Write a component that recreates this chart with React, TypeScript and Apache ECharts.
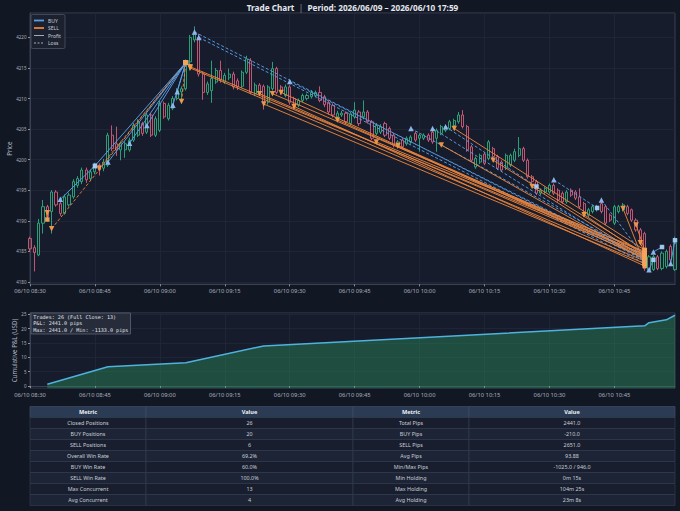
import React, { useEffect, useRef } from "react";
import * as echarts from "echarts";

const FONT = "'Noto Sans', 'DejaVu Sans', sans-serif";
const MONO = "'DejaVu Sans Mono', 'Liberation Mono', monospace";

const BG = "#121724";
const PLOT_BG = "#161c2b";
const BORDER = "#394152";
const GRID_LINE = "#20283a";
const LABEL = "#aab1bf";
const BUY_C = "#5b9ee6";
const SELL_C = "#e8833c";
const UP_C = "#2fae7e";
const DOWN_C = "#d45d7a";

// one-minute categories 06/10 08:30 .. 10:59
const pad = (n: number) => (n < 10 ? "0" + n : "" + n);
const times: string[] = [];
for (let i = 0; i < 150; i++) {
  const t = 8 * 60 + 30 + i;
  times.push(`06/10 ${pad(Math.floor(t / 60))}:${pad(t % 60)}`);
}

// [open, close, low, high]
const candles: number[][] = [
  [4187.1, 4185.4, 4185.0, 4187.4], [4185.6, 4184.8, 4181.7, 4186.0], [4184.4, 4189.6, 4184.2, 4190.3], [4189.6, 4192.3, 4187.9, 4193.4],
  [4192.3, 4190.7, 4190.0, 4192.6], [4191.5, 4194.7, 4187.9, 4195.0], [4194.7, 4192.6, 4192.3, 4195.0], [4192.8, 4191.2, 4190.8, 4193.2],
  [4191.2, 4193.9, 4191.0, 4194.3], [4192.6, 4194.2, 4192.3, 4194.6], [4193.9, 4196.4, 4193.6, 4196.8], [4195.8, 4196.9, 4195.4, 4197.3],
  [4196.4, 4198.3, 4196.0, 4198.7], [4198.3, 4196.7, 4196.2, 4198.7], [4196.9, 4198.0, 4196.6, 4198.4], [4198.0, 4199.1, 4197.6, 4199.5],
  [4199.1, 4198.3, 4197.4, 4199.4], [4198.6, 4199.6, 4198.1, 4200.1], [4199.1, 4204.0, 4198.8, 4204.4], [4204.0, 4201.8, 4201.4, 4205.6],
  [4202.6, 4201.6, 4200.6, 4205.4], [4201.6, 4202.6, 4199.9, 4203.0], [4201.6, 4202.6, 4200.3, 4203.0], [4201.6, 4203.2, 4201.3, 4203.6],
  [4203.2, 4205.6, 4202.9, 4206.0], [4204.0, 4206.2, 4203.7, 4206.6], [4205.9, 4204.3, 4203.9, 4206.2], [4204.5, 4207.3, 4204.2, 4207.7],
  [4207.3, 4204.0, 4203.7, 4207.6], [4204.0, 4206.7, 4203.7, 4207.1], [4204.8, 4209.2, 4204.5, 4209.6], [4209.2, 4207.0, 4206.7, 4209.5],
  [4206.7, 4208.9, 4206.4, 4209.3], [4208.4, 4210.0, 4208.1, 4210.4], [4210.0, 4211.3, 4209.7, 4211.7], [4211.1, 4211.6, 4209.2, 4212.0],
  [4211.6, 4216.0, 4211.3, 4216.4], [4216.0, 4220.0, 4214.6, 4220.4], [4219.6, 4220.5, 4219.2, 4221.8], [4220.0, 4214.0, 4213.6, 4220.6],
  [4214.0, 4211.0, 4209.8, 4214.4], [4211.0, 4212.4, 4210.6, 4212.8], [4211.3, 4213.3, 4209.3, 4216.2], [4212.7, 4214.6, 4212.4, 4215.0],
  [4214.6, 4213.0, 4212.6, 4216.2], [4212.7, 4213.8, 4212.4, 4214.2], [4213.4, 4214.0, 4213.0, 4214.9], [4214.0, 4211.9, 4211.5, 4214.4],
  [4212.9, 4211.9, 4211.4, 4213.3], [4212.0, 4214.3, 4211.7, 4214.6], [4214.3, 4216.5, 4214.0, 4217.0], [4216.2, 4211.0, 4210.7, 4216.6],
  [4210.8, 4212.2, 4210.4, 4212.6], [4212.2, 4211.0, 4210.6, 4212.5], [4212.0, 4209.4, 4208.2, 4212.3], [4209.4, 4211.9, 4209.0, 4212.2],
  [4211.6, 4214.9, 4211.3, 4216.0], [4214.9, 4211.0, 4210.7, 4215.2], [4211.9, 4211.0, 4210.6, 4212.2], [4210.5, 4211.9, 4210.2, 4212.3],
  [4211.9, 4209.4, 4209.0, 4212.2], [4210.0, 4208.6, 4208.3, 4210.3], [4208.9, 4209.7, 4208.6, 4210.0], [4209.7, 4210.5, 4209.4, 4210.8],
  [4210.0, 4210.5, 4209.7, 4210.8], [4210.3, 4211.0, 4210.0, 4211.4], [4210.5, 4211.0, 4210.2, 4211.3], [4211.0, 4209.7, 4209.4, 4212.0],
  [4210.3, 4209.0, 4208.6, 4210.6], [4209.4, 4207.8, 4207.4, 4209.7], [4208.9, 4207.3, 4206.9, 4209.2], [4207.0, 4207.6, 4206.7, 4208.0],
  [4207.3, 4207.6, 4207.0, 4208.0], [4207.6, 4206.2, 4205.8, 4207.9], [4205.9, 4207.5, 4205.6, 4207.8], [4207.0, 4208.1, 4206.7, 4209.4],
  [4207.8, 4205.9, 4205.5, 4208.1], [4207.0, 4207.8, 4206.6, 4209.7], [4207.8, 4206.2, 4205.9, 4208.1], [4206.2, 4203.5, 4203.2, 4206.5],
  [4204.3, 4205.6, 4204.0, 4206.0], [4204.5, 4205.4, 4204.2, 4205.8], [4205.9, 4204.0, 4203.7, 4206.2], [4205.1, 4203.5, 4203.2, 4205.4],
  [4204.0, 4202.4, 4202.0, 4204.3], [4202.1, 4202.9, 4201.8, 4203.2], [4203.2, 4202.1, 4201.8, 4203.5], [4202.6, 4203.5, 4202.3, 4203.8],
  [4202.9, 4203.7, 4202.6, 4204.0], [4204.3, 4203.2, 4202.9, 4204.6], [4203.5, 4204.0, 4201.3, 4204.3], [4203.5, 4204.0, 4203.2, 4204.3],
  [4204.0, 4203.2, 4202.9, 4204.3], [4204.5, 4202.9, 4202.6, 4205.0], [4203.5, 4204.8, 4201.3, 4205.1], [4204.3, 4205.4, 4204.0, 4205.7],
  [4204.8, 4205.4, 4204.5, 4205.7], [4205.1, 4206.2, 4204.8, 4206.5], [4205.6, 4206.4, 4205.3, 4206.7], [4206.2, 4207.3, 4205.9, 4207.8],
  [4207.3, 4205.4, 4205.1, 4208.1], [4205.4, 4201.6, 4201.3, 4205.7], [4202.1, 4199.9, 4199.6, 4202.4], [4198.8, 4200.2, 4198.5, 4200.5],
  [4199.6, 4200.7, 4199.3, 4201.0], [4200.9, 4199.4, 4199.1, 4201.2], [4200.2, 4202.9, 4199.9, 4203.2], [4201.8, 4200.5, 4200.2, 4202.1],
  [4200.5, 4198.6, 4198.3, 4200.8], [4199.6, 4198.3, 4198.0, 4199.9], [4198.6, 4200.7, 4198.3, 4201.0], [4199.1, 4200.7, 4198.8, 4201.0],
  [4199.9, 4201.3, 4199.6, 4201.8], [4200.7, 4201.8, 4200.4, 4203.7], [4201.8, 4199.9, 4199.6, 4202.1], [4199.9, 4197.2, 4196.9, 4200.2],
  [4197.2, 4196.4, 4196.1, 4197.5], [4196.4, 4194.5, 4194.2, 4196.7], [4194.5, 4195.0, 4194.2, 4195.3], [4194.7, 4195.3, 4194.4, 4195.6],
  [4194.7, 4195.8, 4194.4, 4196.1], [4195.8, 4194.5, 4194.2, 4196.1], [4195.0, 4193.4, 4193.1, 4195.3], [4194.5, 4193.1, 4192.8, 4194.8],
  [4193.1, 4194.7, 4192.8, 4195.0], [4195.0, 4194.2, 4193.9, 4195.3], [4194.7, 4193.7, 4193.4, 4195.0], [4193.9, 4192.3, 4192.0, 4195.3],
  [4192.8, 4191.2, 4190.6, 4193.1], [4190.9, 4191.8, 4190.6, 4192.1], [4191.5, 4192.3, 4191.2, 4192.6], [4191.8, 4192.3, 4191.5, 4192.6],
  [4192.8, 4191.5, 4191.2, 4193.1], [4192.3, 4189.6, 4189.3, 4192.6], [4190.9, 4190.1, 4189.8, 4191.2], [4189.6, 4192.3, 4189.3, 4192.6],
  [4191.5, 4192.3, 4191.2, 4192.6], [4191.8, 4192.6, 4191.5, 4192.9], [4192.3, 4191.2, 4190.9, 4192.6], [4191.8, 4190.1, 4189.8, 4192.0],
  [4190.1, 4188.5, 4188.2, 4190.4], [4188.5, 4186.3, 4186.0, 4188.8], [4187.9, 4182.2, 4181.8, 4188.2], [4182.0, 4184.1, 4181.7, 4184.4],
  [4182.0, 4184.1, 4181.8, 4184.4], [4184.1, 4182.2, 4181.9, 4184.4], [4182.2, 4184.7, 4181.9, 4185.0], [4182.5, 4185.0, 4182.2, 4185.3],
  [4185.8, 4183.6, 4183.3, 4186.1], [4182.0, 4186.3, 4181.8, 4187.4],
];

// trades: side, entry minute index / price, exit minute index / price
const tradeSide = [
  "BUY", "SELL", "SELL", "BUY", "SELL", "BUY", "BUY", "BUY", "BUY", "BUY", "SELL",
  "BUY", "BUY", "SELL", "SELL", "SELL", "SELL", "SELL", "SELL", "SELL", "SELL", "BUY",
  "SELL", "SELL", "BUY", "BUY", "SELL", "BUY", "SELL", "SELL", "SELL", "BUY", "SELL",
  "BUY", "SELL", "SELL", "SELL", "BUY", "BUY", "BUY",
];
const entryIdx = [7, 5, 4, 15, 16, 18, 23, 27, 33, 34, 35, 38, 39, 37, 37, 53, 54, 56, 58, 61, 71, 60, 80, 85, 88, 93, 95, 96, 98, 107, 116, 121, 128, 132, 137, 140, 141, 144, 143, 148];
const entryPrice = [4193.5, 4188.7, 4191.3, 4199.0, 4198.6, 4199.6, 4202.7, 4205.6, 4208.9, 4211.1, 4209.5, 4220.9, 4220.0, 4215.2, 4215.0, 4210.8, 4209.1, 4210.8, 4211.0, 4208.7, 4206.5, 4212.8, 4202.9, 4202.3, 4205.1, 4205.1, 4202.4, 4205.4, 4205.1, 4199.9, 4195.6, 4196.7, 4191.0, 4193.4, 4192.0, 4189.3, 4186.4, 4184.9, 4182.0, 4183.0];
const exitIdx = [15, 36, 4, 36, 36, 36, 36, 36, 36, 36, 36, 142, 142, 142, 142, 142, 142, 142, 142, 142, 142, 142, 142, 142, 142, 142, 142, 117, 142, 142, 142, 131, 142, 142, 142, 142, 142, 146, 144, 149];
const exitPrice = [4199.0, 4215.9, 4190.2, 4215.9, 4215.9, 4215.9, 4215.9, 4215.9, 4215.9, 4215.9, 4215.9, 4183.5, 4183.0, 4184.5, 4183.4, 4184.0, 4183.0, 4184.8, 4183.8, 4182.6, 4184.2, 4183.8, 4185.0, 4184.4, 4184.2, 4183.4, 4183.6, 4195.6, 4185.2, 4184.6, 4183.9, 4192.1, 4184.3, 4184.0, 4182.9, 4185.2, 4184.7, 4185.7, 4183.6, 4186.8];

// cumulative P&L points (minute index, USD)
const pnlIdx = [4, 18, 36, 54, 142, 143, 146, 147, 149];
const pnlVal = [0.6, 6.7, 8.1, 14.0, 21.0, 22.1, 22.9, 23.1, 24.7];

const infoLines = ["Trades: 26 (Full Close: 13)", "P&L: 2441.0 pips", "Max: 2441.0 / Min: -1133.0 pips"];

const tableHeaders = ["Metric", "Value", "Metric", "Value"];
const metricsLeft = ["Closed Positions", "BUY Positions", "SELL Positions", "Overall Win Rate", "BUY Win Rate", "SELL Win Rate", "Max Concurrent", "Avg Concurrent"];
const valuesLeft = ["26", "20", "6", "69.2%", "60.0%", "100.0%", "13", "4"];
const metricsRight = ["Total Pips", "BUY Pips", "SELL Pips", "Avg Pips", "Min/Max Pips", "Min Holding", "Max Holding", "Avg Holding"];
const valuesRight = ["2441.0", "-210.0", "2651.0", "93.88", "-1025.0 / 946.0", "0m 15s", "104m 25s", "23m 8s"];

const legendItems = ["BUY", "SELL", "Profit", "Loss"];

export default function App() {
  const ref = useRef<HTMLDivElement>(null);

  useEffect(() => {
    document.body.style.margin = "0";
    document.body.style.background = BG;
    if (!ref.current) return;
    const chart = echarts.init(ref.current, undefined, { renderer: "svg" });

    const showEvery15 = (i: number) => i % 15 === 0;

    const tradeSeries = tradeSide.map((side, k) => {
      const win = side === "BUY" ? exitPrice[k] > entryPrice[k] : exitPrice[k] < entryPrice[k];
      return {
        type: "line",
        xAxisIndex: 0,
        yAxisIndex: 0,
        data: [[entryIdx[k], entryPrice[k]], [exitIdx[k], exitPrice[k]]],
        symbol: "none",
        silent: true,
        z: 3,
        lineStyle: { color: side === "BUY" ? BUY_C : SELL_C, width: 1, type: win ? "solid" : [3, 2], opacity: 0.95 },
      };
    });

    const pick = (side: string, idx: number[], px: number[]) =>
      tradeSide.map((s, k) => (s === side ? [idx[k], px[k]] : null)).filter((d) => d !== null);

    const markerSeries = [
      { data: pick("BUY", entryIdx, entryPrice), symbol: "triangle", symbolRotate: 0, color: "#8fbcf2", size: 5.5 },
      { data: pick("SELL", entryIdx, entryPrice), symbol: "triangle", symbolRotate: 180, color: "#f29a4a", size: 5.5 },
      { data: pick("BUY", exitIdx, exitPrice), symbol: "rect", symbolRotate: 0, color: "#a8cdf5", size: 4.5 },
      { data: pick("SELL", exitIdx, exitPrice), symbol: "rect", symbolRotate: 0, color: "#f5a25a", size: 4.5 },
    ].map((m) => ({
      type: "scatter",
      xAxisIndex: 0,
      yAxisIndex: 0,
      data: m.data,
      symbol: m.symbol,
      symbolRotate: m.symbolRotate,
      symbolSize: m.size,
      silent: true,
      z: 4,
      itemStyle: { color: m.color, opacity: 0.95 },
    }));

    // legend graphics
    const legendEls: any[] = [
      { type: "rect", shape: { x: 31, y: 14.5, width: 34, height: 34, r: 1.5 }, style: { fill: "rgba(28,34,48,0.92)", stroke: "#4b5365", lineWidth: 0.8 }, z: 100 },
    ];
    const legendStyles = [
      { stroke: BUY_C, lineWidth: 1.8 },
      { stroke: SELL_C, lineWidth: 1.8 },
      { stroke: "#b4bac6", lineWidth: 0.9 },
      { stroke: "#b4bac6", lineWidth: 0.9, lineDash: [2, 1.5] },
    ];
    legendItems.forEach((name, k) => {
      const y = 20.5 + k * 7.5;
      legendEls.push({ type: "line", shape: { x1: 34, y1: y, x2: 44, y2: y }, style: legendStyles[k], z: 101 });
      legendEls.push({ type: "text", x: 48, y, style: { text: name, fill: "#c8cdd6", fontSize: 5, fontFamily: FONT, verticalAlign: "middle" }, z: 101 });
    });

    // info box
    const infoEls: any[] = [
      { type: "rect", shape: { x: 31, y: 313, width: 99.5, height: 21 }, style: { fill: "rgba(40,46,60,0.92)", stroke: "#5b6274", lineWidth: 0.8 }, z: 100 },
    ];
    infoLines.forEach((t, k) => {
      infoEls.push({ type: "text", x: 33.3, y: 316.8 + k * 6.6, style: { text: t, fill: "#e2e5ec", fontSize: 5.1, fontFamily: MONO, verticalAlign: "middle" }, z: 101 });
    });

    // table
    const colX = [30, 146, 353, 469, 675];
    const headY = 406.5;
    const headH = 11;
    const rowH = 11;
    const tableEls: any[] = [];
    tableHeaders.forEach((h, c) => {
      tableEls.push({ type: "rect", shape: { x: colX[c], y: headY, width: colX[c + 1] - colX[c], height: headH }, style: { fill: "#2c3b54", stroke: "#3f4c64", lineWidth: 0.7 } });
      tableEls.push({ type: "text", x: (colX[c] + colX[c + 1]) / 2, y: headY + headH / 2, style: { text: h, fill: "#eef1f6", fontSize: 5.6, fontWeight: "bold", fontFamily: FONT, align: "center", verticalAlign: "middle" } });
    });
    const cols = [metricsLeft, valuesLeft, metricsRight, valuesRight];
    metricsLeft.forEach((_, r) => {
      const y = headY + headH + r * rowH;
      cols.forEach((col, c) => {
        tableEls.push({ type: "rect", shape: { x: colX[c], y, width: colX[c + 1] - colX[c], height: rowH }, style: { fill: r % 2 === 0 ? "#181e2d" : "#1d2435", stroke: "#353f54", lineWidth: 0.6 } });
        tableEls.push({ type: "text", x: (colX[c] + colX[c + 1]) / 2, y: y + rowH / 2, style: { text: col[r], fill: "#c9ced8", fontSize: 5.4, fontFamily: FONT, align: "center", verticalAlign: "middle" } });
      });
    });

    const titleEl = {
      type: "text",
      x: 352.5,
      y: 7.5,
      style: {
        text: "{b|Trade Chart}{s|  |  }{b|Period: 2026/06/09 – 2026/06/10 17:59}",
        align: "center",
        verticalAlign: "middle",
        rich: {
          b: { fontSize: 8.2, fontWeight: "bold", fill: "#e4e7ee", fontFamily: FONT },
          s: { fontSize: 8.2, fill: "#8d95a6", fontFamily: FONT },
        },
      },
    };

    const xAxisBase = (gridIndex: number) => ({
      type: "category",
      gridIndex,
      data: times,
      boundaryGap: false,
      axisLine: { lineStyle: { color: BORDER } },
      axisTick: { interval: showEvery15, length: 2, lineStyle: { color: "#8a91a0" } },
      axisLabel: { interval: showEvery15, color: LABEL, fontSize: 5.8, fontFamily: FONT, margin: 4 },
      splitLine: { show: true, interval: showEvery15, lineStyle: { color: GRID_LINE, width: 0.8 } },
    });

    const yAxisBase = (gridIndex: number, name: string, min: number, max: number, splitNumber: number, nameGap: number) => ({
      type: "value",
      gridIndex,
      min,
      max,
      splitNumber,
      name,
      nameLocation: "middle",
      nameGap,
      nameMoveOverlap: false,
      nameTextStyle: { color: LABEL, fontSize: 6.2, fontFamily: FONT },
      axisLine: { show: true, lineStyle: { color: BORDER } },
      axisTick: { show: true, length: 2, lineStyle: { color: "#8a91a0" } },
      axisLabel: {
        color: LABEL,
        fontSize: 4.5,
        fontFamily: FONT,
        margin: 3.5,
        showMinLabel: false,
        showMaxLabel: false,
        formatter: (v: number) => String(v),
      },
      splitLine: { show: true, lineStyle: { color: GRID_LINE, width: 0.8 } },
    });

    const option: any = {
      animation: false,
      backgroundColor: BG,
      grid: [
        { left: 30, right: 5, top: 13, bottom: 226.7, show: true, backgroundColor: PLOT_BG, borderColor: BORDER, borderWidth: 1, containLabel: false, outerBoundsMode: "none" },
        { left: 30, right: 5, top: 312.7, bottom: 122.7, show: true, backgroundColor: PLOT_BG, borderColor: BORDER, borderWidth: 1, containLabel: false, outerBoundsMode: "none" },
      ],
      xAxis: [xAxisBase(0), xAxisBase(1)],
      yAxis: [
        yAxisBase(0, "Price", 4179.6, 4224, 9, 18),
        yAxisBase(1, "Cumulative P&L (USD)", -0.8, 25.6, 5, 12.5),
      ],
      series: [
        {
          type: "candlestick",
          xAxisIndex: 0,
          yAxisIndex: 0,
          data: candles,
          barWidth: 2.6,
          silent: true,
          z: 2,
          itemStyle: {
            color: "rgba(0,0,0,0)",
            color0: "rgba(0,0,0,0)",
            borderColor: UP_C,
            borderColor0: DOWN_C,
            borderWidth: 0.9,
          },
        },
        ...tradeSeries,
        ...markerSeries,
        {
          type: "line",
          xAxisIndex: 1,
          yAxisIndex: 1,
          data: pnlIdx.map((x, i) => [x, pnlVal[i]]),
          symbol: "none",
          silent: true,
          lineStyle: { color: "#4fb2de", width: 1.5 },
          areaStyle: { color: "rgba(46,160,100,0.55)", origin: "start" },
        },
      ],
      graphic: [titleEl, ...legendEls, ...infoEls, ...tableEls],
    };

    chart.setOption(option);
    return () => chart.dispose();
  }, []);

  return <div ref={ref} style={{ position: "absolute", left: 0, top: 0, width: 680, height: 511 }} />;
}
